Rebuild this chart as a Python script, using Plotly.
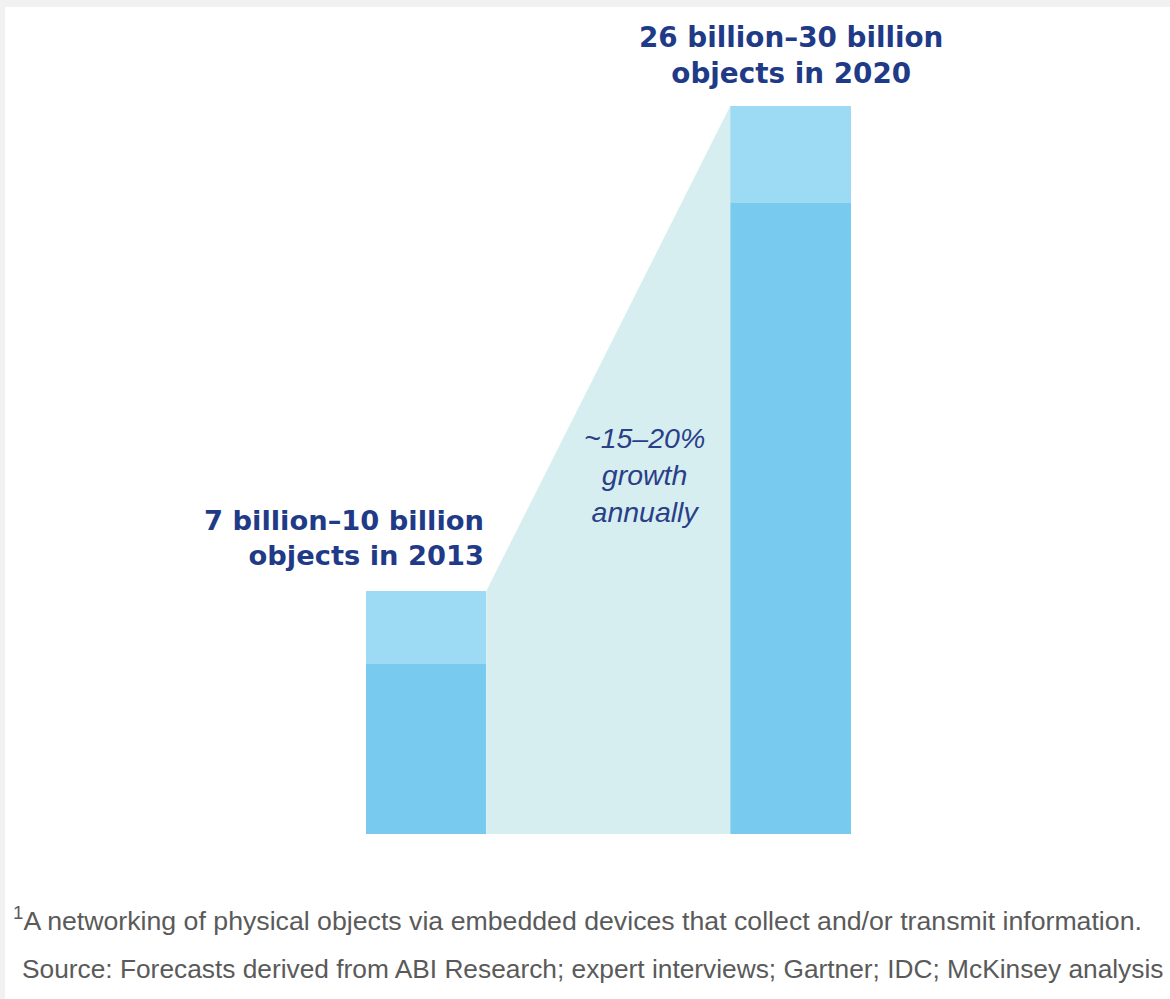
import plotly.graph_objects as go

# ---- data ----
years = ["2013", "2020"]
low_bn = [7, 26]          # lower bound, billions of connected objects
high_bn = [10, 30]        # upper bound, billions of connected objects
range_bn = [h - l for h, l in zip(high_bn, low_bn)]
bar_labels = ["7 billion–10 billion<br>objects in 2013",
              "26 billion–30 billion<br>objects in 2020"]
growth_label = "<i>~15–20%<br>growth<br>annually</i>"
footnote = "<sup>1</sup>A networking of physical objects via embedded devices that collect and/or transmit information."
source = "Source: Forecasts derived from ABI Research; expert interviews; Gartner; IDC; McKinsey analysis"

# ---- style ----
DARK = "#78CBEE"
LIGHT = "#9DDAF4"
WEDGE = "#D7EEF0"
NAVY = "#1F3A87"
GREY = "#5A5A5A"
BAR_W = 0.33

xpos = list(range(len(years)))

fig = go.Figure()

# growth wedge between the two bars
wx = [xpos[0] + BAR_W / 2, xpos[1] - BAR_W / 2, xpos[1] - BAR_W / 2, xpos[0] + BAR_W / 2]
wy = [high_bn[0], high_bn[1], 0, 0]
fig.add_trace(go.Scatter(x=wx, y=wy, fill="toself", fillcolor=WEDGE, mode="lines",
                         line=dict(width=0), hoverinfo="skip", showlegend=False))

fig.add_trace(go.Bar(x=xpos, y=low_bn, width=BAR_W, marker=dict(color=DARK, line=dict(width=0)),
                     showlegend=False, hoverinfo="skip"))
fig.add_trace(go.Bar(x=xpos, y=range_bn, width=BAR_W, marker=dict(color=LIGHT, line=dict(width=0)),
                     showlegend=False, hoverinfo="skip"))

annotations = [
    dict(x=xpos[1], y=high_bn[1], xref="x", yref="y", text="<b>" + bar_labels[1] + "</b>",
         showarrow=False, xanchor="center", yanchor="bottom", yshift=14, align="center",
         font=dict(family="DejaVu Sans", size=27.8, color=NAVY)),
    dict(x=xpos[0] + BAR_W / 2, y=high_bn[0], xref="x", yref="y", text="<b>" + bar_labels[0] + "</b>",
         showarrow=False, xanchor="right", yanchor="bottom", yshift=18, align="right",
         font=dict(family="DejaVu Sans", size=27.3, color=NAVY)),
    dict(x=0.6, y=14.8, xref="x", yref="y", text=growth_label, showarrow=False,
         xanchor="center", yanchor="middle", align="center",
         font=dict(family="Liberation Sans", size=28.5, color="#2A3F88")),
    dict(x=(11 - 5) / 1165, y=(999 - 919) / 992, xref="paper", yref="paper", text=footnote,
         showarrow=False, xanchor="left", yanchor="middle", align="left",
         font=dict(family="Liberation Sans", size=26.7, color=GREY)),
    dict(x=(20 - 5) / 1165, y=(999 - 969) / 992, xref="paper", yref="paper", text=source,
         showarrow=False, xanchor="left", yanchor="middle", align="left",
         font=dict(family="Liberation Sans", size=26.3, color=GREY)),
]

fig.update_layout(
    width=1170, height=999,
    margin=dict(l=5, r=0, t=7, b=0),
    paper_bgcolor="#F1F1F1",
    plot_bgcolor="#FFFFFF",
    barmode="stack",
    bargap=0,
    xaxis=dict(visible=False, range=[-1.155, 2.041], fixedrange=True),
    yaxis=dict(visible=False, range=[-6.80, 34.07], fixedrange=True),
    annotations=annotations,
    showlegend=False,
)

fig.write_html("out.html",
               config={"displayModeBar": False},
               post_script="document.body.style.margin='0';document.body.style.overflow='hidden';")
